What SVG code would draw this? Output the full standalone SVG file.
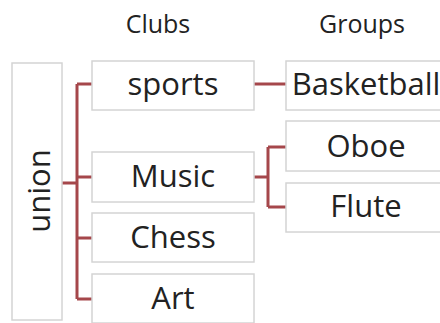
<svg xmlns="http://www.w3.org/2000/svg" width="440" height="323" viewBox="0 0 440 323">
<style>
.box{fill:#fff;stroke:#d4d4d4;stroke-width:1.5}
.t{font-family:"Open Sans","Liberation Sans",sans-serif;fill:#222;text-anchor:middle}
.n{font-size:31px}
.h{font-size:25px}
.c{fill:none;stroke:#a5474b;stroke-width:3}
</style>
<rect width="440" height="323" fill="#fff"/>
<text class="t h" x="158" y="33">Clubs</text>
<text class="t h" x="362" y="33">Groups</text>
<g id="connectors">
<path class="c" d="M62 183H77M77 84V299M77 84H92M77 177H92M77 238H92M77 299H92"/>
<path class="c" d="M254 84H286"/>
<path class="c" d="M254 177H268M268 147V207M268 147H286M268 207H286"/>
</g>
<g id="union"><rect class="box" x="12" y="63" width="50" height="257"/><text class="t n" transform="translate(50 191) rotate(-90)">union</text></g>
<g id="sports"><rect class="box" x="92" y="61" width="162" height="49"/><text class="t n" x="173" y="95">sports</text></g>
<g id="music"><rect class="box" x="92" y="152" width="162" height="50"/><text class="t n" x="173" y="187">Music</text></g>
<g id="chess"><rect class="box" x="92" y="213" width="162" height="49"/><text class="t n" x="173" y="248">Chess</text></g>
<g id="art"><rect class="box" x="92" y="274" width="162" height="49"/><text class="t n" x="173" y="309">Art</text></g>
<g id="basketball"><rect class="box" x="286" y="61" width="170" height="49"/><text class="t n" x="366" y="95">Basketball</text></g>
<g id="oboe"><rect class="box" x="286" y="121" width="170" height="50"/><text class="t n" x="366" y="157">Oboe</text></g>
<g id="flute"><rect class="box" x="286" y="183" width="170" height="49"/><text class="t n" x="366" y="217">Flute</text></g>
</svg>
